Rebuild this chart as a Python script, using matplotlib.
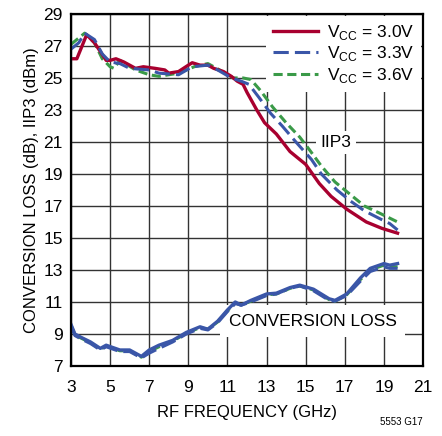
import matplotlib
matplotlib.use("Agg")
import matplotlib.pyplot as plt
from matplotlib import font_manager

names = {f.name for f in font_manager.fontManager.ttflist}
fam = ['Liberation Sans Narrow'] if 'Liberation Sans Narrow' in names else ['Liberation Sans']
plt.rcParams['font.family'] = fam + ['DejaVu Sans']
plt.rcParams['mathtext.fontset'] = 'custom'
plt.rcParams['mathtext.rm'] = fam[0]

# IIP3 data
iip3_x30 = [3.0, 3.3, 3.8, 4.2, 4.8, 5.0, 5.3, 5.7, 6.3, 6.7, 7.3, 7.8, 8.0, 8.5, 9.0, 9.2, 9.6, 10.0, 10.3, 10.8, 11.2, 11.5, 11.8, 12.0, 12.5, 12.9, 13.5, 14.2, 15.0, 15.7, 16.3, 17.1, 18.1, 18.9, 19.7]
iip3_y30 = [26.2, 26.2, 27.7, 27.2, 26.1, 26.1, 26.2, 26.0, 25.6, 25.7, 25.6, 25.5, 25.3, 25.4, 25.8, 25.95, 25.8, 25.8, 25.6, 25.4, 25.1, 24.8, 24.6, 24.1, 23.0, 22.2, 21.5, 20.4, 19.6, 18.4, 17.6, 16.8, 16.0, 15.6, 15.3]
iip3_x33 = [3.0, 3.4, 3.7, 4.2, 4.6, 5.0, 5.5, 6.0, 7.0, 7.5, 8.5, 9.2, 10.0, 10.5, 11.2, 11.7, 12.1, 12.6, 13.2, 13.8, 14.5, 15.3, 15.8, 16.6, 17.3, 18.0, 18.8, 19.3, 19.7]
iip3_y33 = [26.8, 27.2, 27.8, 27.4, 26.5, 26.0, 25.9, 25.6, 25.5, 25.3, 25.2, 25.7, 25.8, 25.5, 25.0, 24.8, 24.6, 23.8, 22.8, 22.0, 21.0, 19.9, 19.0, 18.0, 17.3, 16.7, 16.2, 15.9, 15.5]
iip3_x36 = [3.0, 3.4, 3.7, 4.2, 4.6, 5.0, 5.2, 5.5, 6.3, 7.0, 7.5, 8.5, 9.3, 10.0, 10.6, 11.3, 11.8, 12.2, 12.7, 13.3, 14.0, 14.7, 15.2, 15.8, 16.5, 17.2, 18.0, 18.7, 19.2, 19.7]
iip3_y36 = [27.1, 27.5, 27.8, 27.2, 26.2, 25.7, 25.6, 26.1, 25.5, 25.2, 25.1, 25.3, 25.7, 25.9, 25.5, 25.0, 25.0, 24.9, 24.2, 23.2, 22.2, 21.3, 20.5, 19.5, 18.5, 17.8, 17.0, 16.6, 16.3, 16.0]

# Conversion loss data
cl_x = [3.0, 3.2, 3.5, 4.0, 4.5, 4.8, 5.5, 6.0, 6.3, 6.6, 7.0, 7.5, 8.2, 8.9, 9.6, 10.0, 10.5, 11.0, 11.4, 11.7, 12.2, 13.0, 13.5, 14.2, 14.7, 15.4, 15.8, 16.2, 16.5, 17.1, 17.8, 18.3, 19.0, 19.3, 19.7]
cl_y30 = [9.6, 9.0, 8.8, 8.5, 8.1, 8.3, 8.0, 8.0, 7.8, 7.6, 8.0, 8.3, 8.6, 9.1, 9.45, 9.3, 9.8, 10.5, 11.0, 10.8, 11.1, 11.5, 11.55, 11.9, 12.05, 11.8, 11.5, 11.2, 11.1, 11.5, 12.5, 13.1, 13.4, 13.3, 13.4]
cl_y33 = [9.5, 8.9, 8.7, 8.4, 8.0, 8.2, 7.9, 7.9, 7.7, 7.5, 7.8, 8.1, 8.5, 9.0, 9.35, 9.25, 9.7, 10.4, 10.9, 10.8, 11.0, 11.4, 11.5, 11.85, 12.0, 11.7, 11.4, 11.1, 11.05, 11.4, 12.3, 12.9, 13.2, 13.1, 13.1]
cl_y36 = [9.55, 8.95, 8.75, 8.45, 8.05, 8.25, 7.95, 7.95, 7.75, 7.55, 7.9, 8.2, 8.55, 9.05, 9.4, 9.3, 9.75, 10.45, 10.95, 10.8, 11.05, 11.45, 11.5, 11.85, 12.0, 11.75, 11.45, 11.15, 11.05, 11.45, 12.4, 13.0, 13.3, 13.2, 13.2]

labels = [r'V$_{\mathregular{CC}}$ = 3.0V', r'V$_{\mathregular{CC}}$ = 3.3V', r'V$_{\mathregular{CC}}$ = 3.6V']
red, blue, green = '#a8002f', '#3a56a8', '#3a9a48'

fig = plt.figure(figsize=(4.42, 4.36), dpi=100)
ax = fig.add_axes([0.1606, 0.1606, 0.7964, 0.8074])

# conversion loss
ax.plot(cl_x, cl_y36, color=green, lw=2.2, ls=(0, (3, 1.5)), zorder=3)
ax.plot(cl_x, cl_y30, color=blue, lw=2.4, zorder=3)
ax.plot(cl_x, cl_y33, color=blue, lw=2.2, ls=(0, (5, 2)), zorder=3)

# IIP3
l1, = ax.plot(iip3_x30, iip3_y30, color=red, lw=2.4, zorder=4)
l2, = ax.plot(iip3_x33, iip3_y33, color=blue, lw=2.2, ls=(0, (5, 2)), zorder=4)
l3, = ax.plot(iip3_x36, iip3_y36, color=green, lw=2.2, ls=(0, (3, 1.5)), zorder=3.5)

ax.set_xlim(3, 21)
ax.set_ylim(7, 29)
ax.set_xticks(range(3, 22, 2))
ax.set_yticks(range(7, 30, 2))
ax.grid(True, color='#333333', lw=1.0)
ax.set_axisbelow(True)
ax.tick_params(axis='x', length=0, labelsize=12.5, pad=10)
ax.tick_params(axis='y', length=0, labelsize=12.5, pad=6)
for s in ax.spines.values():
    s.set_linewidth(1.6)
    s.set_color('black')
    s.set_zorder(5)

ax.set_xlabel('RF FREQUENCY (GHz)', fontsize=12, labelpad=7)
ax.set_ylabel('CONVERSION LOSS (dB), IIP3 (dBm)', fontsize=12, labelpad=3)

leg = ax.legend([l1, l2, l3], labels, loc='upper right', frameon=True, fontsize=12.5,
                handlelength=2.6, handletextpad=0.5, labelspacing=0.15,
                borderaxespad=0.1, borderpad=0.4, fancybox=False)
leg.get_frame().set_edgecolor('none')
leg.get_frame().set_facecolor('white')
leg.get_frame().set_alpha(1)
leg.set_zorder(6)

ax.text(16.55, 20.95, 'IIP3', fontsize=12.5, ha='center', va='center',
        bbox=dict(facecolor='white', edgecolor='none', pad=3), zorder=2)
ax.text(15.35, 9.8, 'CONVERSION LOSS', fontsize=12.5, ha='center', va='center',
        bbox=dict(facecolor='white', edgecolor='none', pad=6), zorder=2)

fig.text(0.957, 0.02, '5553 G17', fontsize=7, ha='right', va='bottom')

fig.savefig('out.png', dpi=100)
